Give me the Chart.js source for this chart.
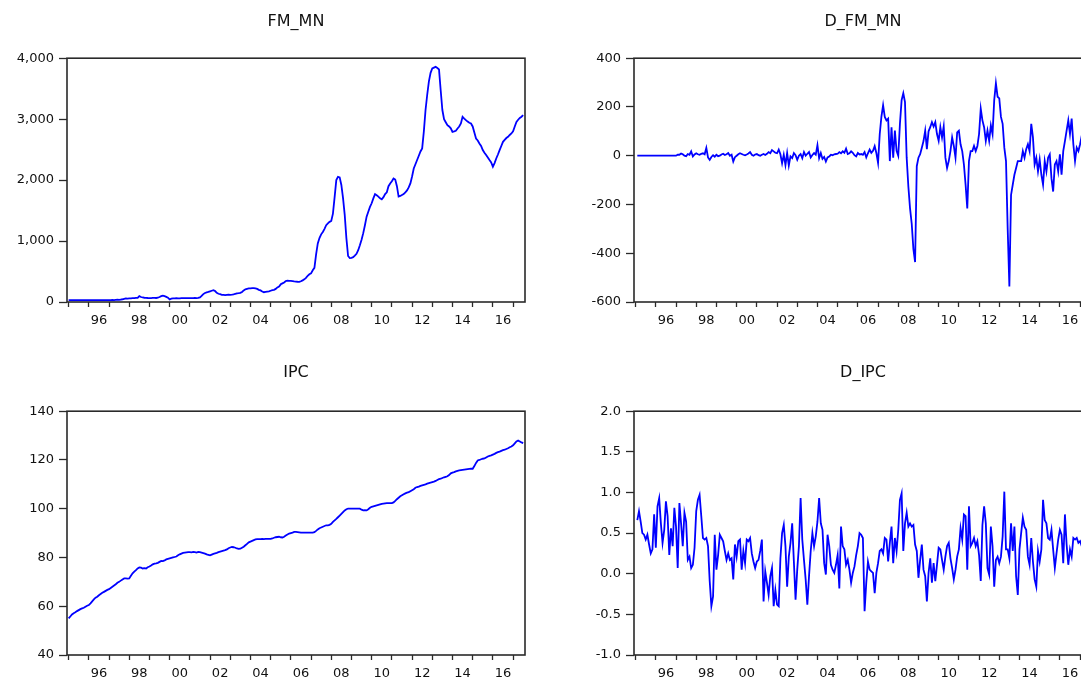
<!DOCTYPE html>
<html>
<head>
<meta charset="utf-8">
<script src="https://cdn.jsdelivr.net/npm/chart.js@4.4.1/dist/chart.umd.min.js"></script>
<style>
  html, body { margin: 0; padding: 0; background: #fff; overflow: hidden; }
  #wrap { position: relative; width: 1081px; height: 680px; overflow: hidden; }
  #wrap canvas { position: absolute; }
</style>
</head>
<body>
<div id="wrap">
  <canvas id="fm" width="540" height="340" style="left:0;top:0"></canvas>
  <canvas id="dfm" width="540" height="340" style="left:567px;top:0"></canvas>
  <canvas id="ipc" width="540" height="340" style="left:0;top:340px"></canvas>
  <canvas id="dipc" width="540" height="340" style="left:567px;top:340px"></canvas>
</div>
<script>
// ---------- monthly data ----------
// levels start Jan 1995, differences start Feb 1995
const levelStart = 1995;
const diffStart = 1995 + 1 / 12;

const fmMn = [
  30,30,30,30,30,30,30,30,30,30,30,30,
  30,30,30,30,30,30,30,30,30,30,30,30,
  30,31,33,32,36,38,35,40,45,52,58,56,
  58,60,63,62,66,68,96,82,74,70,68,66,
  65,64,66,68,66,70,82,96,104,95,84,70,
  42,55,60,61,62,60,61,62,63,62,64,63,
  62,63,64,66,65,66,75,100,130,148,158,165,
  175,185,195,180,150,135,128,118,116,112,118,120,
  118,120,125,135,142,145,150,165,190,208,215,222,
  225,228,226,224,215,200,190,172,160,165,170,175,
  185,195,200,215,240,255,290,305,320,345,350,348,
  345,342,338,335,332,330,340,355,372,395,430,455,
  470,520,560,780,960,1050,1110,1150,1200,1260,1290,1315,
  1330,1450,1720,2000,2055,2045,1920,1705,1430,1045,755,720,
  725,735,760,790,850,930,1020,1130,1260,1400,1480,1560,
  1620,1700,1770,1750,1730,1700,1685,1720,1770,1800,1900,1945,
  1980,2027,2010,1900,1730,1740,1755,1770,1800,1830,1880,1945,
  2060,2190,2260,2330,2400,2470,2520,2800,3150,3400,3620,3760,
  3831,3845,3858,3840,3814,3475,3150,3000,2950,2902,2880,2850,
  2792,2800,2810,2847,2880,2929,3038,3010,2984,2960,2940,2929,
  2880,2780,2683,2650,2601,2560,2492,2450,2410,2370,2328,2290,
  2219,2280,2355,2420,2492,2560,2628,2660,2690,2710,2740,2765,
  2800,2880,2956,2990,3020,3040,3066
];

const dFmMn = [
  0,0,0,0,0,0,0,0,0,0,0,
  0,0,0,0,0,0,0,0,0,0,0,0,
  0,4,4,9,6,0,-2,7,4,18,-3,5,
  10,6,4,8,10,6,32,-7,-17,-5,2,-4,
  4,-2,0,5,8,3,6,11,0,4,-24,-6,
  0,6,10,7,4,2,5,9,15,4,0,5,
  7,2,0,4,7,3,8,15,10,23,18,12,
  10,25,6,-31,4,-38,11,-40,-3,-10,11,2,
  -17,0,7,-10,15,0,8,15,-7,3,11,4,
  43,-10,11,-13,-5,-24,-7,-3,4,2,6,7,
  8,15,10,18,12,29,7,10,18,12,2,-3,
  11,5,7,4,15,-7,10,25,12,20,39,11,
  -29,89,160,207,159,145,152,-22,117,-8,103,20,
  0,131,228,256,220,-8,-126,-216,-279,-383,-436,-43,
  -8,6,33,60,103,27,100,117,138,120,138,89,
  61,117,75,120,-8,-50,-22,19,75,40,-8,96,
  103,47,19,-36,-119,-216,-22,19,19,40,19,40,
  89,193,145,117,61,103,61,124,89,228,297,242,
  235,159,131,33,-22,-300,-536,-161,-119,-78,-50,-22,
  -22,-22,19,-8,27,47,19,131,75,-36,-8,-64,
  -15,-78,-119,-22,-64,-8,6,-92,-147,-36,-22,-64,
  6,-78,19,60,103,145,89,152,47,-22,33,19,
  47,82,76,40,30,20,26
];

const ipc = [
  55.0,55.8,56.6,57.1,57.5,58.0,58.4,58.8,59.1,59.4,59.8,60.2,
  60.5,61.2,62.0,62.8,63.5,63.9,64.5,65.0,65.5,65.9,66.3,66.7,
  67.0,67.5,68.0,68.5,69.0,69.6,70.0,70.5,71.0,71.4,71.4,71.3,
  71.4,72.5,73.5,74.2,74.8,75.5,75.9,75.8,75.5,75.6,75.5,76.0,
  76.3,76.7,77.2,77.5,77.6,77.8,78.2,78.6,78.5,78.8,79.2,79.4,
  79.6,79.8,80.0,80.2,80.4,80.9,81.3,81.6,81.9,82.0,82.1,82.2,
  82.2,82.1,82.3,82.2,82.0,82.3,82.2,82.0,81.8,81.6,81.3,81.1,
  80.9,81.2,81.5,81.7,81.9,82.2,82.4,82.6,82.8,83.0,83.3,83.8,
  84.1,84.3,84.2,84.0,83.7,83.5,83.6,84.0,84.4,85.0,85.6,86.2,
  86.5,86.8,87.1,87.4,87.5,87.5,87.5,87.6,87.5,87.6,87.6,87.6,
  87.6,87.8,88.1,88.3,88.4,88.5,88.3,88.2,88.5,89.0,89.4,89.8,
  90.0,90.2,90.5,90.5,90.4,90.3,90.2,90.2,90.2,90.2,90.2,90.2,
  90.2,90.2,90.4,90.9,91.5,92.0,92.3,92.6,92.9,93.2,93.2,93.4,
  93.8,94.6,95.2,95.8,96.5,97.2,97.9,98.6,99.3,99.8,100.0,100.0,
  100.0,100.0,100.0,100.0,100.0,100.0,99.6,99.3,99.4,99.3,99.8,100.4,
  100.8,101.0,101.2,101.4,101.6,101.8,102.0,102.1,102.2,102.3,102.3,102.3,
  102.3,102.6,103.2,103.9,104.5,105.1,105.5,105.9,106.3,106.6,106.8,107.2,
  107.6,108.0,108.6,108.9,109.1,109.4,109.6,109.8,110.0,110.3,110.5,110.7,
  110.9,111.1,111.4,111.8,112.1,112.3,112.6,112.9,113.1,113.3,113.8,114.5,
  114.8,115.0,115.3,115.5,115.7,115.8,115.9,116.0,116.1,116.2,116.3,116.4,
  116.4,117.5,118.8,119.8,120.0,120.3,120.5,120.6,121.0,121.4,121.7,121.9,
  122.2,122.5,122.9,123.2,123.4,123.7,124.0,124.2,124.5,124.8,125.2,125.5,
  126.0,126.8,127.6,128.0,127.6,127.2,126.9
];

const dIpc = [
  0.66,0.77,0.64,0.50,0.48,0.42,0.48,0.36,0.25,0.30,
  0.73,0.32,0.83,0.93,0.62,0.38,0.54,0.89,0.71,0.23,
  0.56,0.34,0.81,0.58,0.07,0.87,0.62,0.34,0.75,0.64,
  0.17,0.21,0.07,0.11,0.32,0.77,0.91,0.97,0.71,0.44,
  0.42,0.44,0.34,-0.09,-0.40,-0.28,0.48,0.05,0.23,0.48,
  0.44,0.40,0.28,0.17,0.25,0.17,0.19,-0.07,0.36,0.21,
  0.40,0.42,0.05,0.28,0.13,0.42,0.40,0.44,0.25,0.15,
  0.07,0.15,0.17,0.28,0.42,-0.34,0.03,-0.11,-0.26,-0.03,
  0.07,-0.40,-0.20,-0.38,-0.40,0.19,0.50,0.60,0.34,-0.16,
  0.21,0.38,0.62,0.15,-0.32,0.05,0.34,0.93,0.42,0.17,
  -0.07,-0.38,-0.03,0.28,0.50,0.34,0.46,0.64,0.93,0.62,
  0.54,0.13,-0.01,0.48,0.34,0.11,0.05,0.01,0.11,0.23,
  -0.18,0.58,0.34,0.30,0.11,0.17,0.05,-0.11,0.01,0.09,
  0.23,0.34,
  0.50,0.48,0.44,-0.46,-0.11,0.15,0.05,0.03,0.01,-0.24,
  0.01,0.13,0.28,0.30,0.25,0.44,0.42,0.15,0.38,0.58,
  0.13,0.44,0.28,0.54,0.91,0.99,0.28,0.62,0.75,0.58,
  0.62,0.58,0.60,0.36,0.28,-0.05,0.17,0.36,0.05,-0.03,
  -0.34,0.01,0.19,-0.11,0.13,-0.09,0.11,0.32,0.30,0.17,
  0.05,0.21,0.34,0.38,0.19,0.07,-0.07,0.05,0.21,0.30,
  0.56,0.42,0.73,0.71,0.05,0.83,0.34,0.38,0.44,0.34,
  0.40,0.23,-0.09,0.60,0.83,0.62,0.07,-0.01,0.58,0.34,
  -0.16,0.17,0.21,0.13,0.21,0.46,1.01,0.30,0.30,0.19,
  0.62,0.28,0.58,-0.03,-0.26,0.30,0.50,0.69,0.58,0.54,
  0.21,0.11,0.44,0.15,-0.07,-0.16,0.28,0.15,0.30,0.91,
  0.66,0.62,0.44,0.42,0.54,0.30,0.07,0.25,0.42,0.54,
  0.48,0.13,0.73,0.36,0.11,0.30,0.21,0.44,0.42,0.44,
  0.38,0.40,0.34,0.30,0.25,0.40,0.20,0.15
];

// ---------- x axis: a tick mark at every year, a label in mid-year of even years ----------
const yearTicks = [1995,1996,1997,1998,1999,2000,2001,2002,2003,2004,2005,2006,
                   2007,2008,2009,2010,2011,2012,2013,2014,2015,2016,2017];
const labelYears = [1996,1998,2000,2002,2004,2006,2008,2010,2012,2014,2016];
const xMin = 1994.92, xMax = 2017.59;

const FONT = "'DejaVu Sans', sans-serif";
const INK = '#111';
const xTickValues = yearTicks.concat(labelYears.map(y => y + 0.5)).sort((a, b) => a - b);

// box round the plot area
const framePlugin = {
  id: 'frame',
  afterDatasetsDraw(chart) {
    const { ctx, chartArea: a } = chart;
    ctx.save();
    ctx.strokeStyle = '#2a2a2a';
    ctx.lineWidth = 1.6;
    ctx.strokeRect(a.left, a.top, a.right - a.left, a.bottom - a.top);
    ctx.restore();
  }
};

function toPoints(values, start) {
  return values.map((v, i) => ({ x: start + i / 12, y: v }));
}

function makePanel(id, title, values, start, y, box) {
  return new Chart(document.getElementById(id), {
    type: 'line',
    data: {
      datasets: [{
        data: toPoints(values, start),
        borderColor: '#0000ff',
        borderWidth: 1.8,
        pointRadius: 0,
        tension: 0,
        fill: false
      }]
    },
    options: {
      responsive: false,
      animation: false,
      layout: { padding: { left: 0, right: 15, top: 0, bottom: 0 } },
      plugins: {
        legend: { display: false },
        tooltip: { enabled: false },
        title: {
          display: true,
          text: title,
          fullSize: false,
          color: INK,
          font: { family: FONT, size: 16, weight: 'normal' },
          padding: { top: box.titleTop, bottom: box.titleBottom }
        }
      },
      scales: {
        x: {
          type: 'linear',
          min: xMin,
          max: xMax,
          afterBuildTicks: s => { s.ticks = xTickValues.map(v => ({ value: v })); },
          afterFit: s => { s.height = box.xHeight; },
          border: { display: false },
          grid: {
            drawOnChartArea: false,
            tickLength: 5,
            tickWidth: 1.3,
            tickColor: c => (c.tick && c.tick.value % 1) ? 'rgba(0,0,0,0)' : '#2a2a2a'
          },
          ticks: {
            autoSkip: false,
            maxRotation: 0,
            minRotation: 0,
            padding: 6,
            color: INK,
            font: { family: FONT, size: 13 },
            callback: v => (v % 1) ? String(Math.floor(v) % 100).padStart(2, '0') : ''
          }
        },
        y: {
          min: y.min,
          max: y.max,
          afterFit: s => { s.width = 67; },
          border: { display: false },
          grid: { drawOnChartArea: false, tickLength: 8, tickWidth: 1.3, tickColor: '#2a2a2a' },
          ticks: {
            stepSize: y.step,
            padding: 5,
            color: INK,
            font: { family: FONT, size: 13 },
            callback: y.fmt
          }
        }
      }
    },
    plugins: [framePlugin]
  });
}

const topBox = { titleTop: 12, titleBottom: 27, xHeight: 38 };
const bottomBox = { titleTop: 23, titleBottom: 29, xHeight: 25 };

document.addEventListener('DOMContentLoaded', () => {
  makePanel('fm', 'FM_MN', fmMn, levelStart,
    { min: 0, max: 4000, step: 1000, fmt: v => v.toLocaleString('en-US') }, topBox);
  makePanel('dfm', 'D_FM_MN', dFmMn, diffStart,
    { min: -600, max: 400, step: 200, fmt: v => String(v) }, topBox);
  makePanel('ipc', 'IPC', ipc, levelStart,
    { min: 40, max: 140, step: 20, fmt: v => String(v) }, bottomBox);
  makePanel('dipc', 'D_IPC', dIpc, diffStart,
    { min: -1, max: 2, step: 0.5, fmt: v => v.toFixed(1) }, bottomBox);
});
</script>
</body>
</html>
